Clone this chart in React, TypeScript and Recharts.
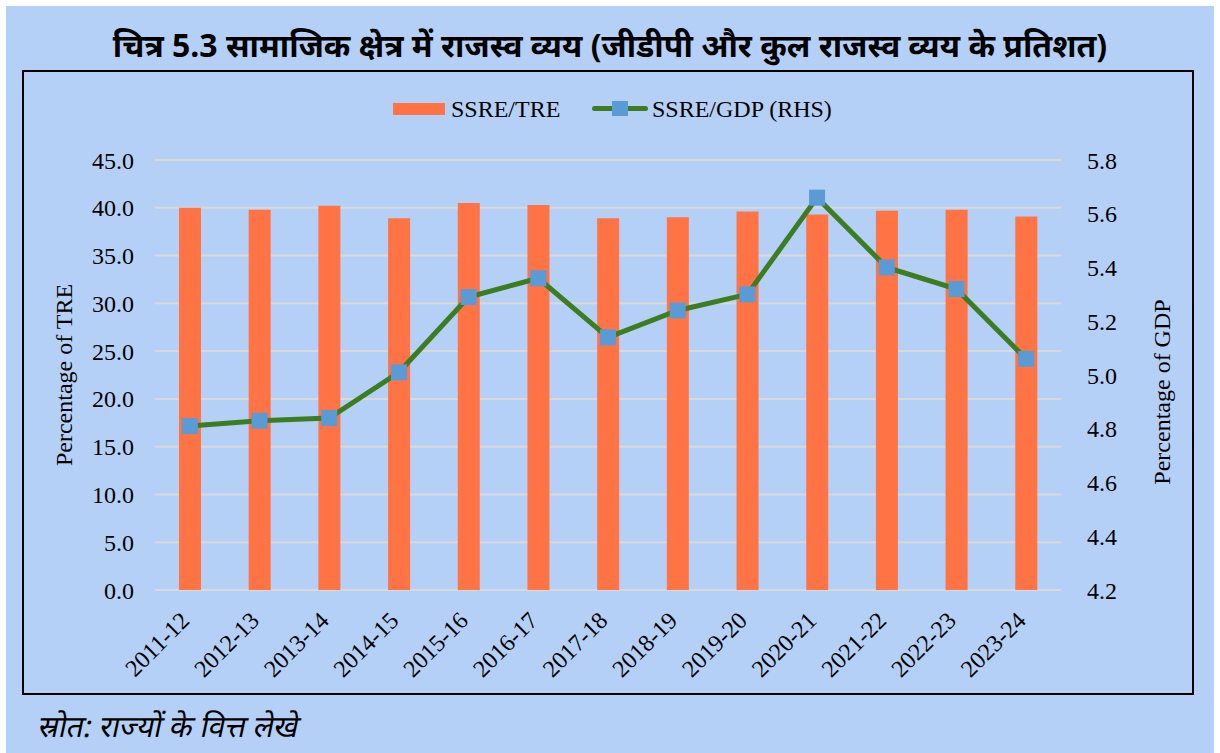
import { ComposedChart, Bar, Line, XAxis, YAxis, CartesianGrid } from "recharts";

const years = [
  "2011-12", "2012-13", "2013-14", "2014-15", "2015-16", "2016-17", "2017-18",
  "2018-19", "2019-20", "2020-21", "2021-22", "2022-23", "2023-24",
];
// SSRE as % of total revenue expenditure (left axis)
const ssreTre = [40.0, 39.8, 40.2, 38.9, 40.5, 40.3, 38.9, 39.0, 39.6, 39.3, 39.7, 39.8, 39.1];
// SSRE as % of GDP (right axis)
const ssreGdp = [4.81, 4.83, 4.84, 5.01, 5.29, 5.36, 5.14, 5.24, 5.3, 5.66, 5.4, 5.32, 5.06];

const leftTicks = [0, 5, 10, 15, 20, 25, 30, 35, 40, 45];
const rightTicks = [4.2, 4.4, 4.6, 4.8, 5.0, 5.2, 5.4, 5.6, 5.8];

const data = years.map((year, i) => ({ year, tre: ssreTre[i], gdp: ssreGdp[i] }));

const BG = "#b5d0f6";
const ORANGE = "#ff7345";
const GREEN = "#3c7d22";
const BLUE = "#5b9bd5";
const SERIF = "'Liberation Serif', 'Times New Roman', serif";
const HINDI = "'Noto Sans', 'Noto Sans Devanagari', sans-serif";

const YearTick = (props: any) => {
  const { x, y, payload } = props;
  const tx = x + 1;
  const ty = y + 32;
  return (
    <text
      x={tx}
      y={ty}
      textAnchor="end"
      transform={`rotate(-45 ${tx} ${ty})`}
      fontSize={24}
      fontFamily={SERIF}
      fill="#000"
    >
      {payload.value}
    </text>
  );
};

const SquareDot = (props: any) => {
  const { cx, cy } = props;
  if (cx == null || cy == null) return null;
  return <rect x={cx - 8} y={cy - 8} width={16} height={16} fill={BLUE} />;
};

export default function App() {
  return (
    <div style={{ position: "absolute", left: 0, top: 0, width: 1220, height: 753, background: "#fff", overflow: "hidden" }}>
      <div style={{ position: "absolute", left: 6, top: 6, width: 1208, height: 747, background: BG }} />

      {/* title */}
      <div
        style={{
          position: "absolute", left: 0, top: 25, width: 1220, textAlign: "center",
          fontFamily: HINDI, fontWeight: 700, fontSize: 32, lineHeight: "40px", color: "#000",
        }}
      >
        चित्र 5.3 सामाजिक क्षेत्र में राजस्व व्यय (जीडीपी और कुल राजस्व व्यय के प्रतिशत)
      </div>

      {/* legend */}
      <div style={{ position: "absolute", left: 393, top: 103, width: 52, height: 12, background: ORANGE }} />
      <div style={{ position: "absolute", left: 451, top: 95, fontFamily: SERIF, fontSize: 24, lineHeight: "28px" }}>
        SSRE/TRE
      </div>
      <div style={{ position: "absolute", left: 592, top: 106, width: 56, height: 5, background: GREEN, borderRadius: 3 }} />
      <div style={{ position: "absolute", left: 612, top: 101, width: 16, height: 15, background: BLUE }} />
      <div style={{ position: "absolute", left: 652, top: 95, fontFamily: SERIF, fontSize: 24, lineHeight: "28px" }}>
        SSRE/GDP (RHS)
      </div>

      <div style={{ position: "absolute", left: 22, top: 70 }}>
        <ComposedChart width={1172} height={625} data={data} margin={{ top: 90, right: 0, bottom: 0, left: 0 }}>
          <CartesianGrid vertical={false} stroke="#d9d9d9" strokeWidth={2} yAxisId="left" />
          <XAxis
            dataKey="year"
            interval={0}
            height={105}
            axisLine={false}
            tickLine={false}
            tickSize={0}
            tickMargin={0}
            tick={<YearTick />}
          />
          <YAxis
            yAxisId="left"
            width={133}
            domain={[0, 45]}
            ticks={leftTicks}
            tickFormatter={(v: number) => v.toFixed(1)}
            axisLine={false}
            tickLine={false}
            tickSize={0}
            tickMargin={21}
            tick={{ fontSize: 24, fontFamily: SERIF, fill: "#000" }}
            label={() => {
              const cx = 49.5;
              const cy = 305;
              return (
                <text x={cx} y={cy} textAnchor="middle" transform={`rotate(-90 ${cx} ${cy})`} fontSize={24} fontFamily={SERIF} fill="#000">
                  Percentage of TRE
                </text>
              );
            }}
          />
          <YAxis
            yAxisId="right"
            orientation="right"
            width={133}
            domain={[4.2, 5.8]}
            ticks={rightTicks}
            tickFormatter={(v: number) => v.toFixed(1)}
            axisLine={false}
            tickLine={false}
            tickSize={0}
            tickMargin={26}
            tick={{ fontSize: 24, fontFamily: SERIF, fill: "#000", textAnchor: "start" }}
            label={() => {
              const cx = 1148;
              const cy = 322;
              return (
                <text x={cx} y={cy} textAnchor="middle" transform={`rotate(-90 ${cx} ${cy})`} fontSize={24} fontFamily={SERIF} fill="#000">
                  Percentage of GDP
                </text>
              );
            }}
          />
          <Bar yAxisId="left" dataKey="tre" fill={ORANGE} barSize={22} isAnimationActive={false} />
          <Line
            yAxisId="right"
            dataKey="gdp"
            type="linear"
            stroke={GREEN}
            strokeWidth={5}
            dot={<SquareDot />}
            activeDot={false}
            isAnimationActive={false}
          />
        </ComposedChart>
      </div>

      {/* chart border */}
      <div style={{ position: "absolute", left: 22, top: 70, width: 1168, height: 621, border: "2px solid #000", pointerEvents: "none" }} />

      {/* source */}
      <div
        style={{
          position: "absolute", left: 35, top: 706, fontFamily: HINDI, fontSize: 30, lineHeight: "40px",
          transform: "skewX(-12deg)", transformOrigin: "left bottom",
        }}
      >
        स्रोत: राज्यों के वित्त लेखे
      </div>
    </div>
  );
}
